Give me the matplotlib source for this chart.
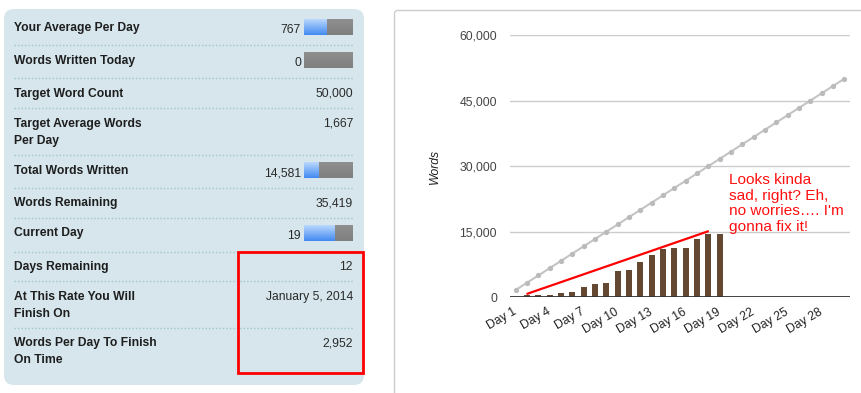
"""
NaNoWriMo stats panel + word count chart.
"""
import numpy as np
import matplotlib.pyplot as plt
from matplotlib.patches import FancyBboxPatch, Rectangle

plt.rcParams['font.family'] = ['Liberation Sans', 'DejaVu Sans']

# --- datos del panel izquierdo ---
stat_labels = ['Your Average Per Day', 'Words Written Today', 'Target Word Count',
               'Target Average Words\nPer Day', 'Total Words Written', 'Words Remaining',
               'Current Day', 'Days Remaining', 'At This Rate You Will\nFinish On',
               'Words Per Day To Finish\nOn Time']
stat_values = ['767', '0', '50,000', '1,667', '14,581', '35,419', '19', '12',
               'January 5, 2014', '2,952']
# filas con barra de progreso -> fraccion azul
progress = {0: 0.46, 1: 0.0, 4: 0.29, 6: 0.63}

# --- datos del grafico ---
days = list(range(1, 31))
day_labels = ['Day %d' % d for d in days]
target_words = [1667, 3333, 5000, 6667, 8333, 10000, 11667, 13333, 15000, 16667,
                18333, 20000, 21667, 23333, 25000, 26667, 28333, 30000, 31667, 33333,
                35000, 36667, 38333, 40000, 41667, 43333, 45000, 46667, 48333, 50000]
written_days = list(range(1, 20))
written_words = [0, 530, 560, 560, 1070, 1300, 2450, 3130, 3370, 6110,
                 6340, 8150, 9580, 10960, 11190, 11200, 13300, 14581, 14581]
y_ticks = [0, 15000, 30000, 45000, 60000]
note_days = [2.05, 17.95]
note_words = [830, 15070]
note_text = "Looks kinda\nsad, right? Eh,\nno worries\u2026. I'm\ngonna fix it!"

W, H = 862, 393
fig = plt.figure(figsize=(W / 100, H / 100), dpi=100)

# Ejes de fondo en pixeles
bg = fig.add_axes([0, 0, 1, 1], zorder=0)
bg.set_xlim(0, W)
bg.set_ylim(H, 0)
bg.axis('off')

# panel azul
bg.add_patch(FancyBboxPatch((4, 9), 360, 376, boxstyle='round,pad=0,rounding_size=10',
                            facecolor='#d6e6ec', edgecolor='none'))
# tarjeta del grafico
bg.add_patch(FancyBboxPatch((394.5, 10.5), 520, 420, boxstyle='round,pad=0,rounding_size=3',
                            facecolor='white', edgecolor='#cccccc', linewidth=1))

label_y = [28, 61, 94, 124, 171, 203, 233, 267, 297, 343]
value_dy = {0: 2, 1: 2, 4: 3, 6: 3}
sep_y = [45, 78, 108, 155, 188, 218, 252, 281, 328]
bar_y = {0: 19, 1: 52, 4: 162, 6: 225}

for i, (lab, val) in enumerate(zip(stat_labels, stat_values)):
    for k, linea in enumerate(lab.split('\n')):
        bg.text(14, label_y[i] + k * 17, linea, fontsize=8.7, fontweight='bold',
                color='#1e1e1e', ha='left', va='center')
    if i in progress:
        bg.text(301, label_y[i] + value_dy[i], val, fontsize=8.7, color='#2a2a2a',
                ha='right', va='center')
        x0, x1 = 304, 353
        y0 = bar_y[i]
        y1 = y0 + 16
        xm = x0 + (x1 - x0) * progress[i]
        gris = np.linspace([0.56, 0.56, 0.56], [0.50, 0.50, 0.50], 16)[:, None, :]
        bg.imshow(gris, extent=(x0, x1, y1, y0), aspect='auto', interpolation='bilinear',
                  zorder=3)
        if progress[i] > 0:
            azul = np.linspace([0.72, 0.84, 0.99], [0.27, 0.55, 0.95], 16)[:, None, :]
            bg.imshow(azul, extent=(x0, xm, y1, y0), aspect='auto',
                      interpolation='bilinear', zorder=4)
    else:
        bg.text(353, label_y[i], val, fontsize=8.7, color='#2a2a2a', ha='right', va='center')

for y in sep_y:
    bg.plot([14, 353], [y, y], color='#9fc6ce', linewidth=1, linestyle=(0, (1, 1.5)))

bg.add_patch(Rectangle((238, 252), 125, 121, fill=False, edgecolor='red', linewidth=2,
                       zorder=5))
bg.set_xlim(0, W)
bg.set_ylim(H, 0)

# Grafico
ax = fig.add_axes([510 / W, (H - 297.3) / H, 340 / W, (297.3 - 35) / H], zorder=1)
ax.set_facecolor('none')
ax.set_xlim(0.5, 30.5)
ax.set_ylim(0, 60000)
for s in ax.spines.values():
    s.set_visible(False)

for y in y_ticks[1:]:
    ax.axhline(y, color='#cccccc', linewidth=1, zorder=0)
ax.axhline(0, color='#333333', linewidth=1.3, zorder=3)

ax.bar(written_days, written_words, width=0.53, color='#654832', zorder=2)
ax.plot(days, target_words, color='#c4c4c4', linewidth=1.5, marker='o', markersize=2.8,
        markerfacecolor='#bbbbbb', markeredgecolor='#bbbbbb', zorder=2)
ax.plot(note_days, note_words, color='red', linewidth=1.6, zorder=4)

ax.set_yticks(y_ticks)
ax.set_yticklabels(['{:,}'.format(v) for v in y_ticks], fontsize=8.8, color='#444444')
ax.set_xticks(days[::3])
ax.set_xticklabels(day_labels[::3], fontsize=8.8, color='#222222')
ax.tick_params(axis='y', length=0, pad=9.4)
ax.tick_params(axis='x', length=0, pad=10)
plt.setp(ax.get_xticklabels(), rotation=30, ha='right', va='center', rotation_mode='anchor')

ax.text(435, 166, 'Words', transform=bg.transData, rotation=90, style='italic',
        fontsize=8.7, color='#222222', ha='center', va='center')
ax.text(729, 173, note_text, transform=bg.transData, fontsize=11.1, color='#ff1010',
        ha='left', va='top', linespacing=1.15)

fig.savefig('out.png', dpi=100)
